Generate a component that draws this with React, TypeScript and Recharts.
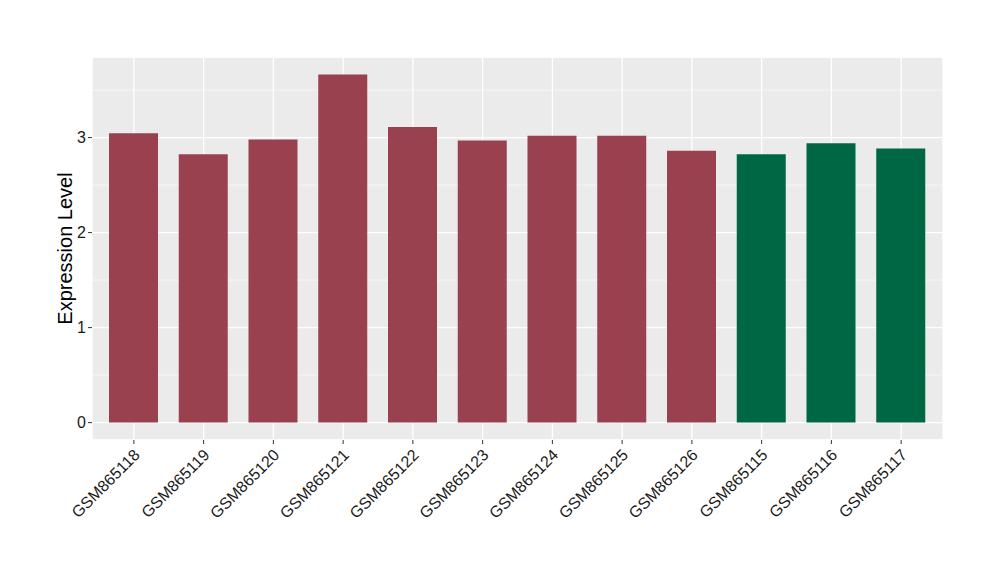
import React from 'react';
import { BarChart, Bar, XAxis, YAxis, CartesianGrid, Cell, Label } from 'recharts';

const samples = ['GSM865118', 'GSM865119', 'GSM865120', 'GSM865121', 'GSM865122', 'GSM865123', 'GSM865124', 'GSM865125', 'GSM865126', 'GSM865115', 'GSM865116', 'GSM865117'];
const expression = [3.045, 2.825, 2.98, 3.665, 3.11, 2.97, 3.02, 3.02, 2.86, 2.825, 2.94, 2.885];
const groups = ['a', 'a', 'a', 'a', 'a', 'a', 'a', 'a', 'a', 'b', 'b', 'b'];
const yTicks = [0, 1, 2, 3];
const yMinorTicks = [0.5, 1.5, 2.5, 3.5];

const groupColor: { [key: string]: string } = { a: '#99414F', b: '#006744' };
const font = '"Liberation Sans", Arial, Helvetica, sans-serif';

const data = samples.map((name, i) => ({ name, value: expression[i], group: groups[i] }));

const RotatedTick = (props: any) => {
    const { x, y, payload } = props;
    return (
        <g transform={`translate(${x + 7},${y + 10})`}>
            <text transform="rotate(-45)" textAnchor="end" fontSize={16} fill="#1A1A1A" fontFamily={font}>
                {payload.value}
            </text>
        </g>
    );
};

export default function App() {
    return (
        <div style={{ position: 'absolute', left: 0, top: 0, background: '#fff' }}>
            <BarChart width={1000} height={580} data={data} margin={{ top: 57, right: 57, bottom: 40, left: 20 }}>
                <CartesianGrid yAxisId="minor" vertical={false} stroke="#FFFFFF" strokeWidth={0.6} fill="#EBEBEB" />
                <CartesianGrid stroke="#FFFFFF" strokeWidth={1.3} />
                <XAxis dataKey="name" interval={0} height={100} padding={{ left: 7, right: 7 }} axisLine={false}
                    tickSize={4} tickLine={{ stroke: '#333333' }} tick={<RotatedTick />} />
                <YAxis yAxisId="minor" hide domain={[-0.183, 3.848]} ticks={yMinorTicks} allowDataOverflow />
                <YAxis domain={[-0.183, 3.848]} ticks={yTicks} allowDataOverflow width={72} axisLine={false}
                    tickSize={4} tickLine={{ stroke: '#333333' }}
                    tick={{ fontSize: 16, fill: '#1A1A1A', fontFamily: font }}>
                    <Label content={(p: any) => (
                        <text x={p.viewBox.x + 45} y={p.viewBox.y + p.viewBox.height / 2} transform={`rotate(-90, ${p.viewBox.x + 45}, ${p.viewBox.y + p.viewBox.height / 2})`}
                            textAnchor="middle" dominantBaseline="central" fontSize={20} fill="#000" fontFamily={font}>
                            Expression Level
                        </text>
                    )} />
                </YAxis>
                <Bar dataKey="value" barSize={49} isAnimationActive={false}>
                    {data.map((d) => <Cell key={d.name} fill={groupColor[d.group]} />)}
                </Bar>
            </BarChart>
        </div>
    );
}
